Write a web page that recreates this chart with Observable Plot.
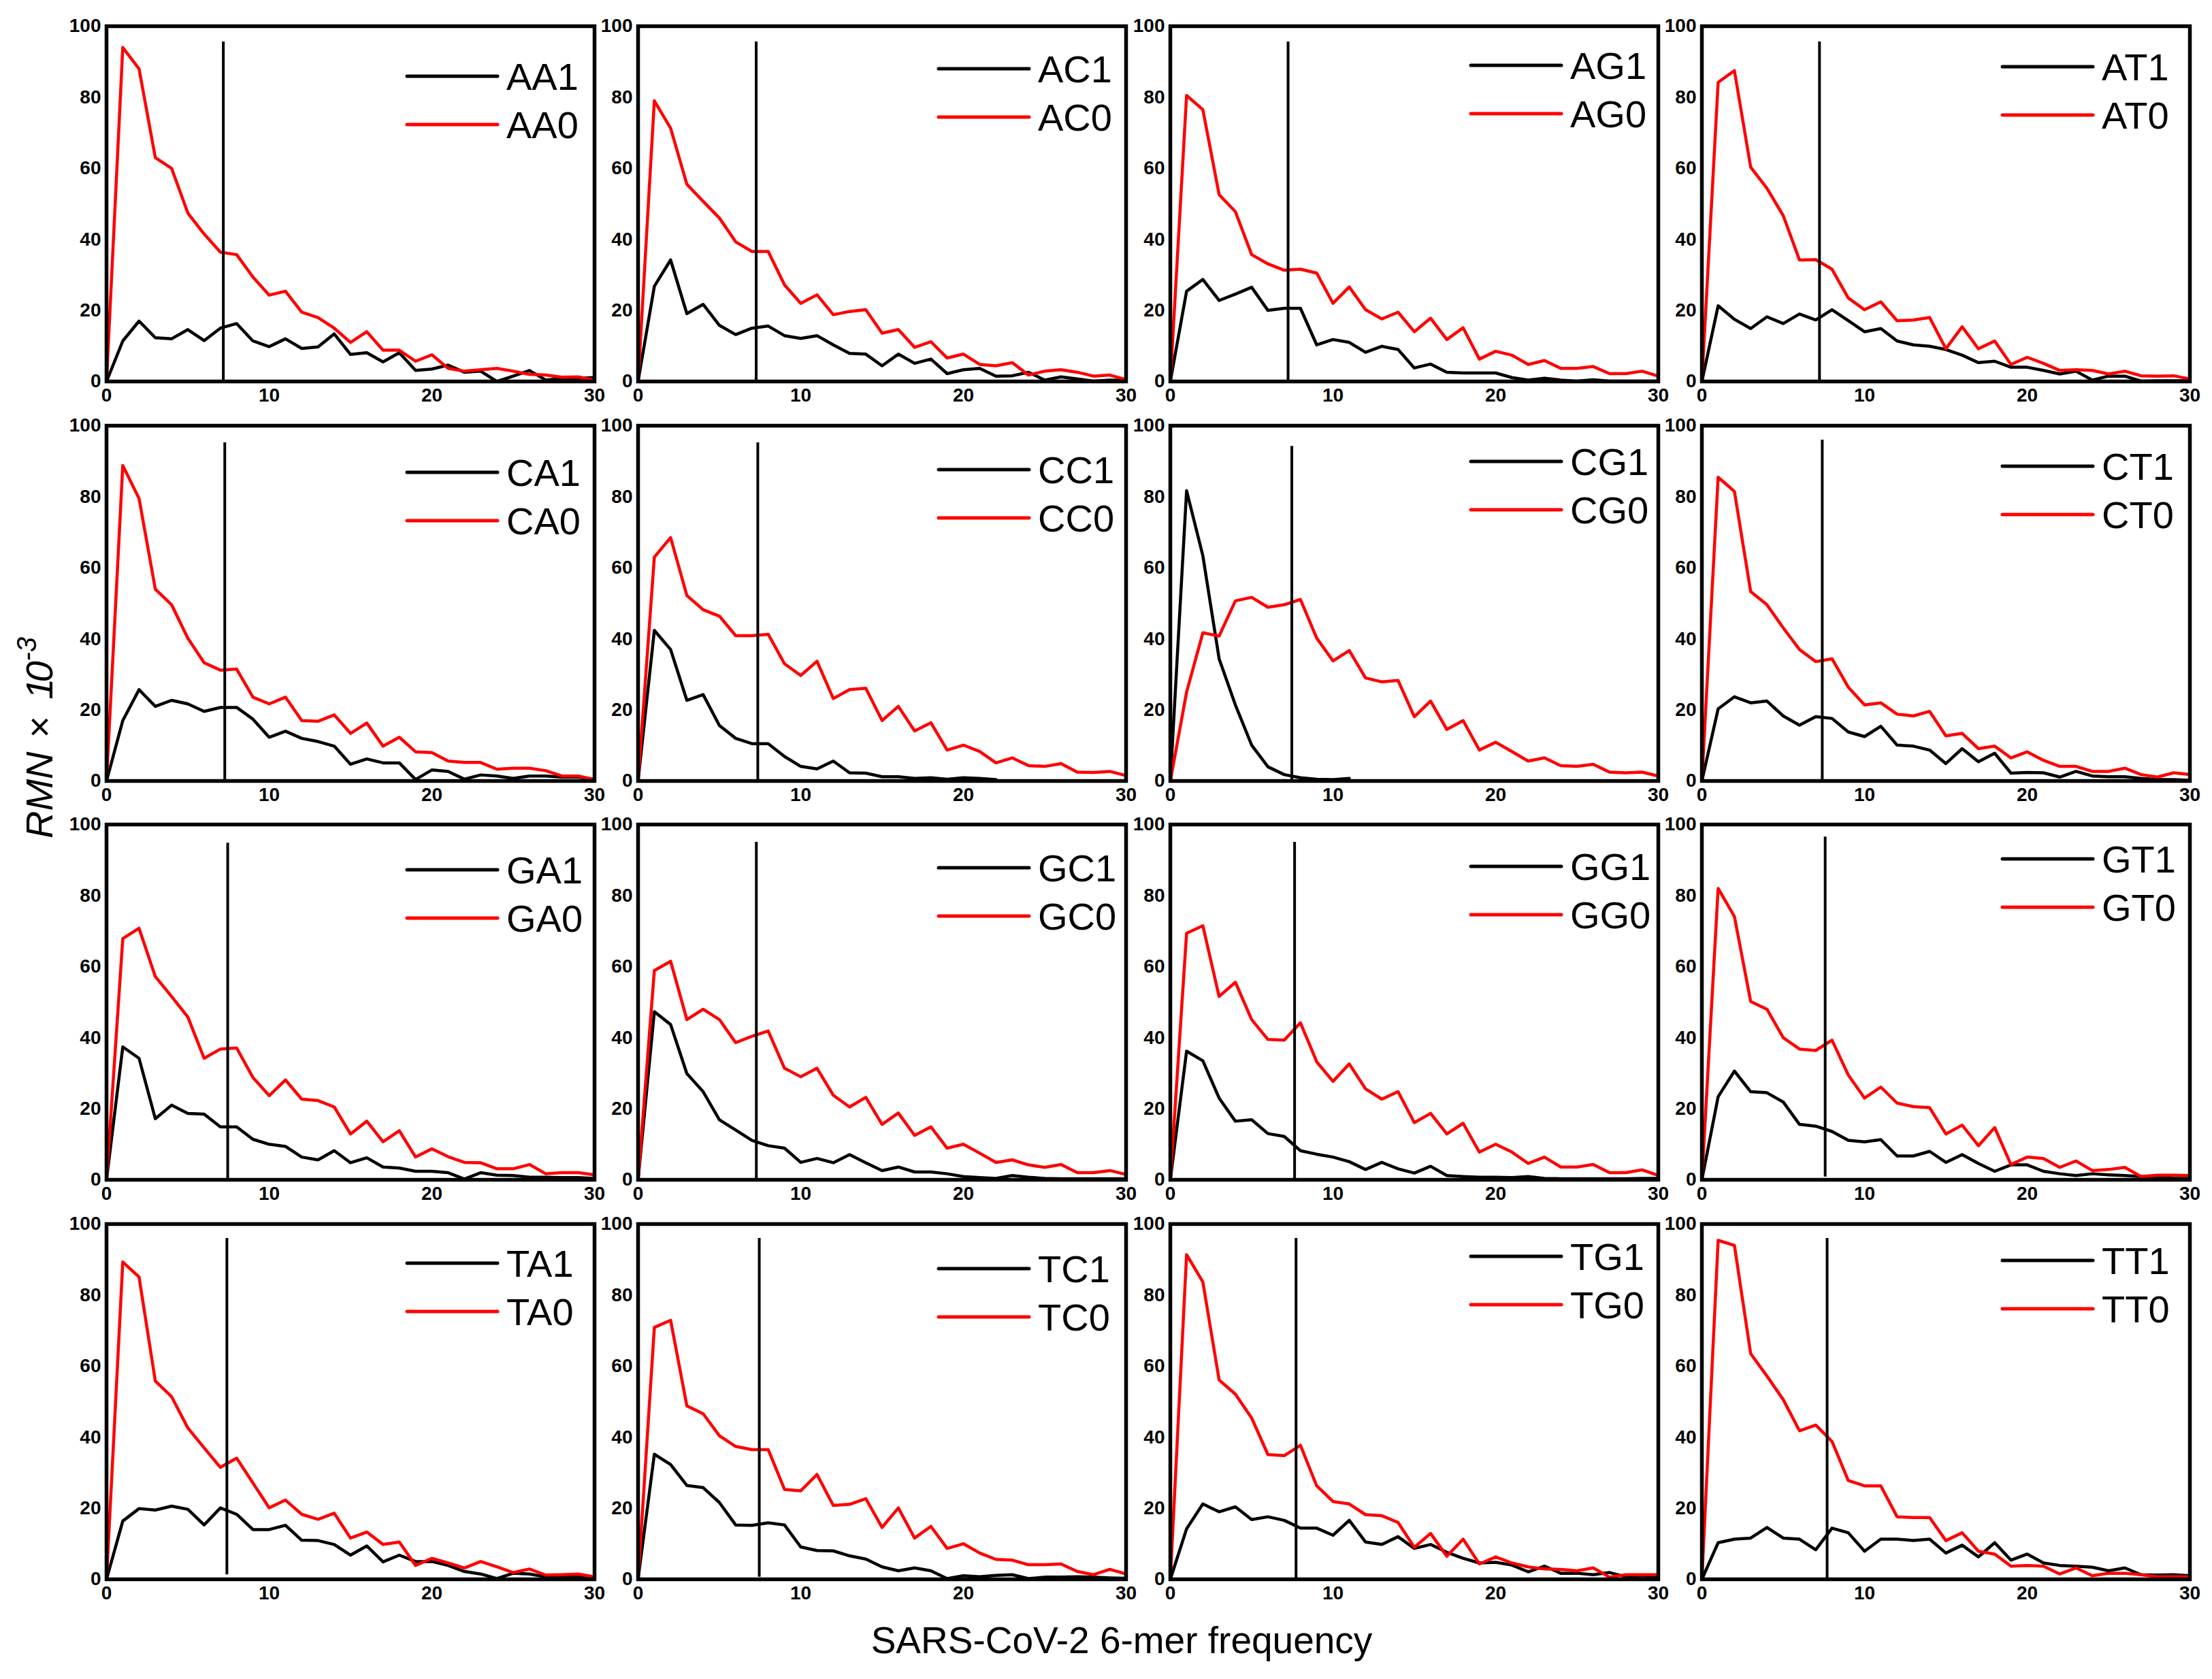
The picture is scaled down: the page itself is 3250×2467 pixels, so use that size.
<!DOCTYPE html>
<html><head><meta charset="utf-8">
<script src="https://cdn.jsdelivr.net/npm/d3@7"></script>
<script src="https://cdn.jsdelivr.net/npm/@observablehq/plot@0.6"></script>
<style>
html,body{margin:0;padding:0;background:#fff;}
#fig{position:relative;width:3250px;height:2467px;background:#fff;overflow:hidden;}
#fig > svg{position:absolute;}
</style></head><body><div id="fig"></div>
<script>
// ---------- data ----------
const freq = [0,1,2,3,4,5,6,7,8,9,10,11,12,13,14,15,16,17,18,19,20,21,22,23,24,25,26,27,28,29,30];
const xTicks = [0,10,20,30];
const yTicks = [0,20,40,60,80,100];
const kmers = ["AA","AC","AG","AT","CA","CC","CG","CT","GA","GC","GG","GT","TA","TC","TG","TT"];

const AA1 = [0,11.4,17,12.3,12,14.6,11.5,15,16.3,11.4,9.8,12,9.3,9.7,13.4,7.6,8.1,5.5,8.1,3.1,3.5,4.6,2.6,2.9,0,1.5,3.1,0.4,0.9,0.9,1.1];
const AA0 = [0,94,88,63,60,47.4,41.5,36.4,35.7,29.4,24.3,25.4,19.5,18,15,11,14,8.8,8.8,5.7,7.5,3.7,2.9,3.3,3.7,2.9,2,1.8,1.2,1.3,0.4];
const AC1 = [0,26.8,34.2,19.1,21.7,15.8,13.2,15,15.6,12.9,12.1,12.9,10.3,7.9,7.7,4.4,7.7,5.1,6.3,2.2,3.3,3.7,1.5,1.6,2.6,0.4,1.3,0.7,0.1,0.4,0.3];
const AC0 = [0,79,71.3,55.5,50.7,46,39.3,36.6,36.6,27.2,22,24.4,18.8,19.7,20.2,13.6,14.6,9.6,11.2,6.6,7.7,4.8,4.4,5.3,1.8,2.9,3.3,2.6,1.5,1.8,0.5];
const AG1 = [0,25.4,28.7,22.8,24.6,26.5,20,20.6,20.6,10.3,11.8,11,8.2,9.9,9,3.8,4.9,2.6,2.4,2.4,2.4,1.1,0.4,0.9,0.4,0.1,0.5,0.1,0.1,0.1,0.1];
const AG0 = [0,80.5,76.5,52.6,47.8,35.7,33.1,31.3,31.6,30.5,22,26.6,20.2,17.6,19.5,14,17.8,11.8,15.1,6.3,8.5,7.4,4.8,5.9,3.7,3.7,4.2,2.2,2.2,2.9,1.5];
const AT1 = [0,21.3,17.5,14.9,18.2,16.3,19,17.3,20.2,17.1,14,14.9,11.4,10.3,9.9,9,7.4,5.3,5.7,4,4,3.1,2.1,2.9,0.4,1.5,1.5,0.1,0.2,0.2,0.2];
const AT0 = [0,84.2,87.5,60.3,54.4,46.7,34.2,34.3,31.6,23.5,20.2,22.4,17.1,17.3,18,9.2,15.4,9.2,11.4,4.8,6.8,5.1,3.1,3.3,3.1,2.1,2.9,1.6,1.5,1.6,0.7];
const CA1 = [0,17,25.7,21,22.7,21.7,19.6,20.7,20.7,17.4,12.3,14,12,11.1,9.8,4.7,6.2,5.1,5.1,0.4,3.1,2.7,0.5,1.7,1.4,0.7,1.4,1.4,1.1,1.1,0.5];
const CA0 = [0,88.8,79.5,54,49.6,40.2,33.3,31.2,31.5,23.6,21.7,23.6,17,16.8,18.6,13.4,16.3,9.8,12.3,8.2,8,5.6,5.2,5.2,3.3,3.6,3.6,2.9,1.4,1.4,0.4];
const CC1 = [0,42.4,37,22.7,24.3,15.6,12,10.5,10.5,6.9,4.1,3.4,5.6,2.3,2.2,1.2,1.2,0.7,0.9,0.5,0.9,0.7,0.4,null,null,null,null,null,null,null,null];
const CC0 = [0,63,68.5,52.2,48.2,46.4,40.9,40.9,41.3,33,29.7,33.7,23.2,25.7,26.1,17,21,14.1,16.4,8.7,10.1,8.3,5.1,6.5,4.3,4.1,4.9,2.5,2.4,2.7,1.5];
const CG1 = [0,81.7,63.4,34.4,21.4,10.1,4,1.8,0.9,0.5,0.4,0.7,null,null,null,null,null,null,null,null,null,null,null,null,null,null,null,null,null,null,null];
const CG0 = [0,25,41.7,40.8,50.7,51.7,48.9,49.6,51.1,40.2,33.8,36.7,29,27.9,28.3,18.1,22.5,14.5,17,8.7,10.9,8.3,5.6,6.5,4.3,4.1,4.7,2.5,2.3,2.5,1.4];
const CT1 = [0,20.3,23.7,22,22.5,18.3,15.7,18.1,17.6,13.8,12.5,15.4,10.1,9.8,8.7,4.9,9.1,5.4,7.8,2.2,2.4,2.3,1.1,2.7,1.4,1.2,1.2,0.7,0.4,0.4,0.2];
const CT0 = [0,85.5,81.5,53.3,49.6,43.1,37,33.6,34.4,26.4,21.4,22,18.8,18.3,19.6,12.7,13.4,9.1,9.8,6.5,8.2,5.8,4.1,4.1,2.7,2.7,3.6,1.8,1.1,2.3,1.8];
const GA1 = [0,37.4,34.2,17.2,21,18.7,18.5,14.9,14.9,11.4,10,9.4,6.4,5.6,8.2,4.8,6.2,3.6,3.3,2.4,2.4,2,0.2,2,1.3,1.2,0.7,0.7,0.6,0.6,0.4];
const GA0 = [0,67.9,70.8,57.2,51.6,45.8,34.2,36.8,37.1,28.8,23.7,28.1,22.7,22.3,20.5,12.9,16.5,10.7,13.8,6.4,8.7,6.5,4.9,4.8,3.1,3.1,4.3,1.7,2,2,1.4];
const GC1 = [0,47.3,43.7,29.9,24.8,16.9,14,11.1,9.6,8.9,4.9,6,4.8,7.1,4.8,2.6,3.6,2.2,2.2,1.7,0.9,0.6,0.4,1.2,0.7,0.4,0.3,0.3,0.3,0.3,0.3];
const GC0 = [0,58.9,61.5,45.1,48,45.1,38.6,40.4,41.9,31.4,29,31.4,23.8,20.5,23.2,15.6,18.8,12.5,14.9,8.9,10,7.5,4.9,5.6,4.2,3.5,4.3,2,2,2.6,1.5];
const GG1 = [0,36.2,33.5,23,16.5,16.9,13,12.2,8.2,7.2,6.4,5.1,2.9,4.9,3.1,1.9,3.8,1.2,0.9,0.7,0.7,0.6,0.9,0.4,0.3,0.3,0.3,0.3,0.3,0.4,0.4];
const GG0 = [0,69.4,71.5,51.6,55.6,45.1,39.5,39.3,44.2,33.2,27.7,32.6,25.6,22.7,24.8,16.1,18.7,12.9,15.9,7.8,10,7.8,4.6,6.4,3.6,3.6,4.3,2,2,2.8,1.2];
const GT1 = [0,23.4,30.6,24.8,24.5,21.9,15.6,15.1,13.6,11.1,10.7,11.3,6.7,6.7,8,4.9,7.1,4.6,2.4,4.2,4.2,2.4,1.7,1.2,1.7,1.4,1.2,0.9,0.6,0.4,0.4];
const GT0 = [0,82,74.1,50.2,48,40,36.8,36.4,39.3,29.5,23,26.1,21.6,20.6,20.3,12.9,15.4,9.6,14.7,4.3,6.4,6,3.5,5.3,2.6,2.9,3.5,0.9,1.3,1.3,1.2];
const TA1 = [0,16.4,19.9,19.5,20.6,19.7,15.3,20.1,18.3,14,14,15.2,11,10.9,9.8,6.8,9.4,4.9,6.8,5,5,3.9,2.2,1.5,0.2,1.7,1.5,0.7,0.7,0.7,0.4];
const TA0 = [0,89.3,85.1,55.8,51.4,42.6,37,31.5,34.1,27.1,20.1,22.3,18.3,16.9,18.6,11.6,13.3,9.8,10.5,3.9,5.9,4.6,3.2,5,3.5,1.9,2.9,1.2,1.3,1.5,0.7];
const TC1 = [0,35.2,32.3,26.4,25.8,21.6,15.3,15.2,15.9,15.3,9.1,8.1,8,6.6,5.7,3.5,2.4,3.2,2.4,0.2,1,0.7,1.1,1.3,0.2,0.6,0.6,0.7,0.6,0.4,0.3];
const TC0 = [0,70.9,72.9,48.8,46.6,40.4,37.4,36.5,36.5,25.3,24.9,29.5,20.8,21.1,22.7,14.6,20.1,11.6,14.9,8.7,10,7.4,5.6,5.4,4.1,4.1,4.3,2.2,1.3,2.8,1.5];
const TG1 = [0,14.2,21.2,19,20.4,16.8,17.6,16.6,14.4,14.4,12.4,16.6,10.5,9.8,12,8.7,9.8,7.6,5.9,4.6,4.8,4,2.1,3.7,1.7,1.7,1.3,1.9,0.7,1,0.7];
const TG0 = [0,91.4,83.7,56.1,52.1,45.4,35.1,34.8,37.7,26.3,21.9,21.2,18.2,17.9,16,9,12.9,6.5,11.3,4.3,6.3,4.6,3.5,2.9,2.8,2.4,3.2,0.6,1.3,1.3,1.3];
const TT1 = [0,10.3,11.3,11.6,14.6,11.6,11.3,8.3,14.4,13.1,7.9,11.3,11.3,10.9,11.3,7.4,9.6,6.3,10.3,5.4,7.1,4.6,3.9,3.7,3.4,2.4,3.2,1.3,1.2,1.3,1];
const TT0 = [0,95.4,94,63.5,57.2,50.6,41.8,43.4,38.8,27.8,26.3,26.3,17.6,17.4,17.4,10.9,13.1,7.9,7.1,3.7,3.9,3.7,1.5,3.2,1,1.7,1.7,1.3,0.7,0.7,0.7];

// vertical reference line per panel (x position, top, bottom)
const vlineX   = [7.18,7.26,7.24,7.23, 7.27,7.36,7.47,7.40, 7.45,7.27,7.64,7.58, 7.40,7.45,7.73,7.70];
const vlineTop = [95.6,95.6,95.6,95.6, 95.2,95.2,94.2,96, 94.8,95,95,96.5, 96,96,96,96];
const vlineBot = [0,0,0,0, 0,0,0,0, 0,0,0,0.8, 1.3,0.6,0,0];

const ones  = {AA:AA1,AC:AC1,AG:AG1,AT:AT1,CA:CA1,CC:CC1,CG:CG1,CT:CT1,GA:GA1,GC:GC1,GG:GG1,GT:GT1,TA:TA1,TC:TC1,TG:TG1,TT:TT1};
const zeros = {AA:AA0,AC:AC0,AG:AG0,AT:AT0,CA:CA0,CC:CC0,CG:CG0,CT:CT0,GA:GA0,GC:GC0,GG:GG0,GT:GT0,TA:TA0,TC:TC0,TG:TG0,TT:TT0};

// ---------- layout ----------
const fontFamily = "'Liberation Sans', Arial, Helvetica, sans-serif";
const colLeft = [156, 937, 1719, 2500];
const rowTop = [38, 625, 1211, 1798];
const panelW = 717, panelH = 522;
const ml = 70, mr = 30, mt = 30, mb = 60;
const legendDy = [74,63,58,60, 69,65,53,60, 67,64,62,51, 58,66,48,54];

const fig = document.getElementById("fig");

kmers.forEach((k, i) => {
  const r = Math.floor(i / 4), c = i % 4;
  const rows = freq.map((f, j) => ({f, v1: ones[k][j], v0: zeros[k][j]}));
  const chart = Plot.plot({
    width: panelW + ml + mr,
    height: panelH + mt + mb,
    marginLeft: ml, marginRight: mr, marginTop: mt, marginBottom: mb,
    style: `font-family:${fontFamily};font-weight:700;background:transparent;overflow:visible;max-width:none;`,
    x: {domain: [0, 30]},
    y: {domain: [0, 100]},
    marks: [
      Plot.axisX({ticks: xTicks, tickSize: 0, tickPadding: 10, fontSize: 28, fontWeight: "bold", label: null, fill: "#000"}),
      Plot.axisY({ticks: yTicks, tickSize: 0, tickPadding: 8, fontSize: 28, fontWeight: "bold", label: null, fill: "#000"}),
      Plot.line(rows, {x: "f", y: "v1", stroke: "#000", strokeWidth: 4.5}),
      Plot.line(rows, {x: "f", y: "v0", stroke: "#ff0000", strokeWidth: 4.5}),
      Plot.ruleX([{x: vlineX[i], y1: vlineBot[i], y2: vlineTop[i]}], {x: "x", y1: "y1", y2: "y2", stroke: "#000", strokeWidth: 4}),
      Plot.frame({stroke: "#000", strokeWidth: 5.5})
    ]
  });
  chart.style.left = (colLeft[c] - ml) + "px";
  chart.style.top = (rowTop[r] - mt) + "px";

  // legend (top-right inside panel)
  const svg = d3.select(chart);
  const xR = ml + panelW;
  const entries = [
    {label: k + "1", color: "#000", dy: legendDy[i]},
    {label: k + "0", color: "#ff0000", dy: legendDy[i] + 71}
  ];
  const g = svg.append("g").attr("class", "legend");
  entries.forEach(e => {
    g.append("line")
      .attr("x1", xR - 275).attr("x2", xR - 142)
      .attr("y1", mt + e.dy).attr("y2", mt + e.dy)
      .attr("stroke", e.color).attr("stroke-width", 5).attr("stroke-linecap", "round");
    g.append("text")
      .attr("x", xR - 129).attr("y", mt + e.dy + 20)
      .attr("text-anchor", "start")
      .attr("font-size", 56).attr("font-weight", 400)
      .attr("font-family", fontFamily)
      .attr("fill", "#000")
      .text(e.label);
  });
  fig.appendChild(chart);
});

// ---------- axis titles ----------
const over = d3.create("svg")
  .attr("width", 3250).attr("height", 2467)
  .style("left", "0px").style("top", "0px").style("pointer-events", "none");
const yt = over.append("text")
  .attr("transform", "translate(77,1232) rotate(-90)")
  .attr("font-family", fontFamily).attr("font-size", 56).attr("font-style", "italic")
  .attr("fill", "#000").attr("text-anchor", "start");
yt.append("tspan").text("RMN");
yt.append("tspan").attr("font-style", "normal").attr("dx", 20).text("×");
yt.append("tspan").attr("dx", 24).attr("letter-spacing", -6).text("10");
yt.append("tspan").attr("font-size", 40).attr("dx", 6).attr("dy", -24).text("-3");
over.append("text")
  .attr("x", 1648).attr("y", 2429)
  .attr("font-family", fontFamily).attr("font-size", 55)
  .attr("fill", "#000").attr("text-anchor", "middle")
  .text("SARS-CoV-2 6-mer frequency");
fig.appendChild(over.node());
</script></body></html>
